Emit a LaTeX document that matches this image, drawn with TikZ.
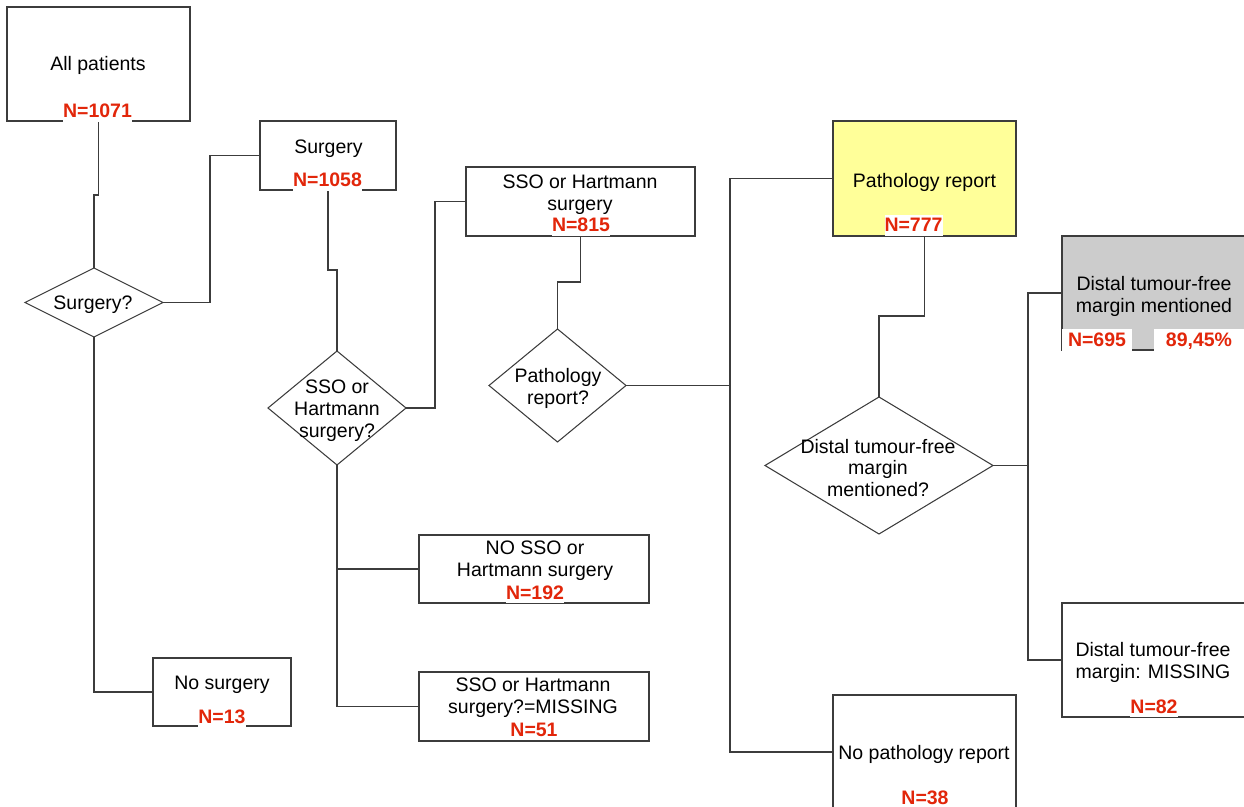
\documentclass[tikz,border=0pt]{standalone}
\usepackage{fontspec}
\setmainfont{Liberation Sans}
\usetikzlibrary{shapes.geometric}
\newlength{\upx}\setlength{\upx}{0.02cm}
\definecolor{nred}{RGB}{226,38,10}
\definecolor{repyellow}{RGB}{255,255,153}
\definecolor{margray}{RGB}{204,204,204}
\definecolor{wiregray}{RGB}{60,60,60}

\begin{document}
\begin{tikzpicture}[x=0.02cm, y=-0.02cm,
	flowbox/.style={shape=rectangle, draw=wiregray, line width=0.6pt, inner sep=0pt, outer sep=0pt},
	askbox/.style={shape=diamond, draw=wiregray, line width=0.6pt, inner sep=0pt, outer sep=0pt},
	flowtxt/.style={align=center, inner sep=0pt, yshift=-0.05cm, font=\fontsize{11.1}{12.5}\selectfont},
	ncount/.style={anchor=base, fill=white, text=nred, inner xsep=0pt, inner ysep=2.3pt, font=\bfseries\fontsize{11.1}{12.5}\selectfont},
	wire/.style={draw=wiregray, line width=0.6pt}]
	\useasboundingbox (0, 0) rectangle (1244, 807);
	% Boxes and decisions:
	\node[flowbox, minimum width=183\upx, minimum height=114\upx] (all) at (98.5, 64) {};
	\node[flowbox, minimum width=136\upx, minimum height=69\upx] (surg) at (328, 155.5) {};
	\node[flowbox, minimum width=229\upx, minimum height=69\upx] (sso) at (580.5, 201.5) {};
	\node[flowbox, fill=repyellow, minimum width=183\upx, minimum height=115\upx] (path) at (924.5, 178.5) {};
	\node[flowbox, fill=margray, minimum width=183\upx, minimum height=114\upx] (marg) at (1153.5, 293) {};
	\node[flowbox, minimum width=183\upx, minimum height=114\upx] (nomarg) at (1153.5, 660) {};
	\node[flowbox, minimum width=183\upx, minimum height=114\upx] (nopath) at (924.5, 752) {};
	\node[flowbox, minimum width=230\upx, minimum height=68\upx] (nosso) at (534, 569) {};
	\node[flowbox, minimum width=230\upx, minimum height=69\upx] (ssomiss) at (534, 706.5) {};
	\node[flowbox, minimum width=138\upx, minimum height=68\upx] (nosurg) at (222, 692) {};
	\node[askbox, minimum width=138\upx, minimum height=69\upx] (q1) at (94, 302.5) {};
	\node[askbox, minimum width=138\upx, minimum height=114\upx] (q2) at (337, 408) {};
	\node[askbox, minimum width=137\upx, minimum height=113\upx] (q3) at (557.5, 385.5) {};
	\node[askbox, minimum width=228\upx, minimum height=137\upx] (q4) at (879, 465.5) {};
	% Wires:
	\draw[wire] (all.south) -- ++(0, 74) -| (q1.north);
	\draw[wire] (q1.east) -- ++(47, 0) |- (surg.west);
	\draw[wire] (q1.south) |- (nosurg.west);
	\draw[wire] (surg.south) -- ++(0, 80) -| (q2.north);
	\draw[wire] (q2.east) -- ++(29, 0) |- (sso.west);
	\draw[wire] (q2.south) |- (nosso.west);
	\draw[wire] (q2.south) |- (ssomiss.west);
	\draw[wire] (sso.south) -- ++(0, 46) -| (q3.north);
	\draw[wire] (q3.east) -- ++(104, 0) coordinate (j3);
	\draw[wire] (j3) |- (path.west);
	\draw[wire] (j3) |- (nopath.west);
	\draw[wire] (path.south) -- ++(0, 80) -| (q4.north);
	\draw[wire] (q4.east) -- ++(35, 0) coordinate (j4);
	\draw[wire] (j4) |- (marg.west);
	\draw[wire] (j4) |- (nomarg.west);
	% Texts:
	\node[flowtxt] (all-t) at (98, 63) {All patients};
	\node[flowtxt] (surg-t) at (328.5, 146) {Surgery};
	\node[flowtxt] (q1-t) at (93, 302) {Surgery?};
	\node[flowtxt] (q2-t) at (337, 408) {SSO or\\Hartmann\\surgery?};
	\node[flowtxt] (sso-t) at (580, 192) {SSO or Hartmann\\surgery};
	\node[flowtxt] (q3-t) at (558, 386) {Pathology\\report?};
	\node[flowtxt] (path-t) at (924.5, 180) {Pathology report};
	\node[flowtxt] (q4-t) at (878, 465.5) {Distal tumour-free\\margin\\mentioned?};
	\node[flowtxt] (marg-t) at (1154, 293.5) {Distal tumour-free\\margin mentioned};
	\node[flowtxt] (nomarg-t) at (1153, 660) {Distal tumour-free\\margin: MISSING};
	\node[flowtxt] (nopath-t) at (924, 752) {No pathology report};
	\node[flowtxt] (nosso-t) at (535, 558) {NO SSO or\\Hartmann surgery};
	\node[flowtxt] (ssomiss-t) at (533, 695) {SSO or Hartmann\\surgery?=MISSING};
	\node[flowtxt] (nosurg-t) at (222, 682) {No surgery};
	% Counts:
	\node[ncount] (all-n) at (97.5, 118) {N=1071};
	\node[ncount] (surg-n) at (327.5, 187) {N=1058};
	\node[ncount] (sso-n) at (581, 232) {N=815};
	\node[ncount] (path-n) at (913.5, 232) {N=777};
	\node[ncount, minimum width=70\upx] (marg-n) at (1097, 347) {N=695};
	\node[ncount, minimum width=90\upx] (marg-p) at (1199, 347) {89,45\%};
	\node[ncount] (nomarg-n) at (1154, 713) {N=82};
	\node[ncount] (nopath-n) at (925, 804) {N=38};
	\node[ncount] (nosso-n) at (535, 599) {N=192};
	\node[ncount] (ssomiss-n) at (534, 736) {N=51};
	\node[ncount] (nosurg-n) at (222, 723) {N=13};
\end{tikzpicture}
\end{document}
